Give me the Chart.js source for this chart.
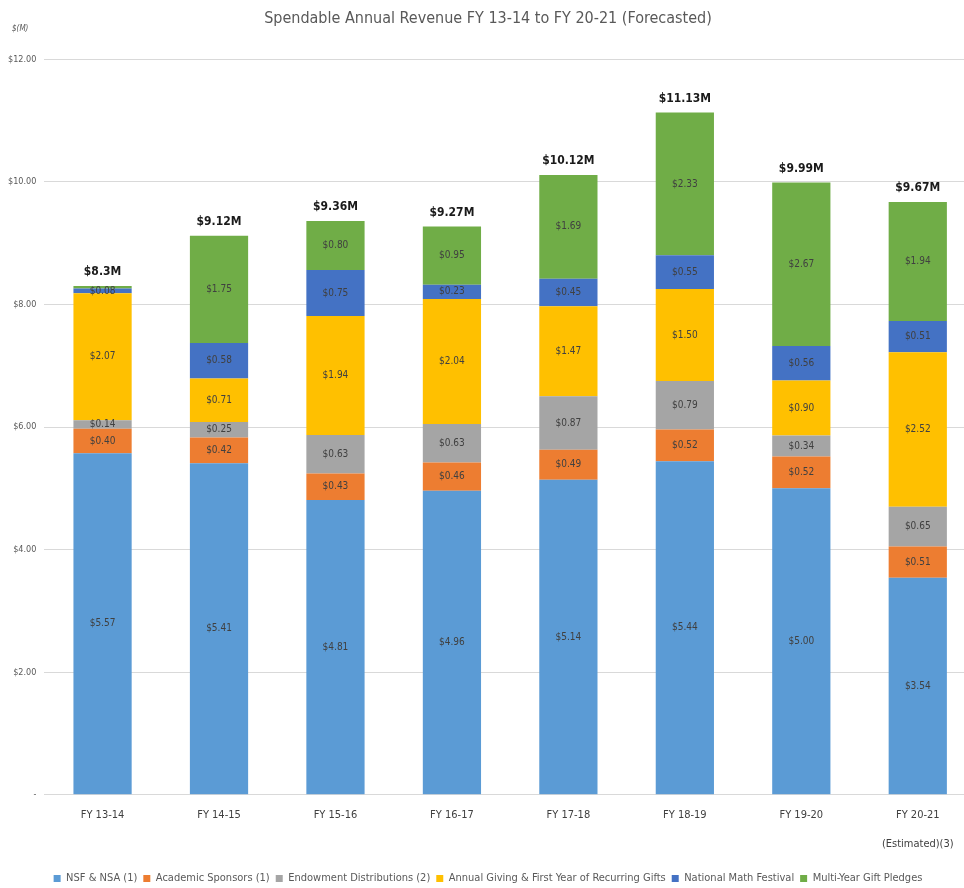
<!DOCTYPE html>
<html>
<head>
<meta charset="utf-8">
<title>Spendable Annual Revenue</title>
<script src="https://cdn.jsdelivr.net/npm/chart.js@4"></script>
<style>
    html, body { margin: 0; padding: 0; background: #fff; overflow: hidden; }
    .chart-wrap { position: relative; width: 976px; height: 888px; }
</style>
</head>
<body>
<div class="chart-wrap">
    <canvas id="revenueChart"></canvas>
</div>
<script>
// Fiscal years and revenue per source, $ millions
const years = ['FY 13-14', 'FY 14-15', 'FY 15-16', 'FY 16-17', 'FY 17-18', 'FY 18-19', 'FY 19-20', ['FY 20-21', '(Estimated)(3)']];
const nsfNsa = [5.57, 5.41, 4.81, 4.96, 5.14, 5.44, 5.00, 3.54];
const academicSponsors = [0.40, 0.42, 0.43, 0.46, 0.49, 0.52, 0.52, 0.51];
const endowment = [0.14, 0.25, 0.63, 0.63, 0.87, 0.79, 0.34, 0.65];
const annualGiving = [2.07, 0.71, 1.94, 2.04, 1.47, 1.50, 0.90, 2.52];
const mathFestival = [0.08, 0.58, 0.75, 0.23, 0.45, 0.55, 0.56, 0.51];
const giftPledges = [0.04, 1.75, 0.80, 0.95, 1.69, 2.33, 2.67, 1.94];
const totals = ['$8.3M', '$9.12M', '$9.36M', '$9.27M', '$10.12M', '$11.13M', '$9.99M', '$9.67M'];
const yTicks = [0, 2, 4, 6, 8, 10, 12];

// condensed face; the stretch keyword rides in the weight slot of the font string
const FONT = "'DejaVu Sans', sans-serif";
const NARROW = 'normal condensed';
const NARROW_BOLD = 'bold condensed';

// writes each segment's value in its middle and the year total above the stack
const barLabels = {
    id: 'barLabels',
    afterDatasetsDraw(chart) {
        const ctx = chart.ctx;
        ctx.save();
        ctx.textAlign = 'center';
        ctx.textBaseline = 'middle';
        ctx.font = NARROW + ' 10px ' + FONT;
        ctx.fillStyle = '#404040';
        chart.data.datasets.forEach((ds, i) => {
            const meta = chart.getDatasetMeta(i);
            meta.data.forEach((bar, j) => {
                // slivers too thin to hold text stay unlabeled
                if (Math.abs(bar.base - bar.y) < 4) return;
                const v = ds.data[j];
                ctx.fillText('$' + v.toFixed(2), bar.x, (bar.y + bar.base) / 2);
            });
        });
        const last = chart.getDatasetMeta(chart.data.datasets.length - 1);
        ctx.font = NARROW_BOLD + ' 12px ' + FONT;
        ctx.fillStyle = '#1a1a1a';
        ctx.textBaseline = 'bottom';
        last.data.forEach((bar, j) => {
            ctx.fillText(totals[j], bar.x, bar.y - 8);
        });
        // units note in the corner
        ctx.font = 'italic ' + NARROW + ' 8px ' + FONT;
        ctx.fillStyle = '#595959';
        ctx.textAlign = 'left';
        ctx.textBaseline = 'middle';
        ctx.fillText('$(M)', 12, 29);
        ctx.restore();
    }
};

const series = [
    ['NSF & NSA (1)', nsfNsa, '#5B9BD5'],
    ['Academic Sponsors (1)', academicSponsors, '#ED7D31'],
    ['Endowment Distributions (2)', endowment, '#A5A5A5'],
    ['Annual Giving & First Year of Recurring Gifts', annualGiving, '#FFC000'],
    ['National Math Festival', mathFestival, '#4472C4'],
    ['Multi-Year Gift Pledges', giftPledges, '#70AD47']
];

new Chart(document.getElementById('revenueChart'), {
    type: 'bar',
    data: {
        labels: years,
        datasets: series.map(([label, data, color]) => ({
            label: label,
            data: data,
            backgroundColor: color,
            borderWidth: 0,
            barPercentage: 0.5,
            categoryPercentage: 1.0
        }))
    },
    options: {
        responsive: true,
        maintainAspectRatio: false,
        animation: false,
        layout: { padding: { left: 0, right: 0, top: 0, bottom: -6 } },
        plugins: {
            title: {
                display: true,
                text: 'Spendable Annual Revenue FY 13-14 to FY 20-21 (Forecasted)',
                color: '#595959',
                font: { family: FONT, size: 16, weight: NARROW },
                padding: { top: 9, bottom: 31 }
            },
            legend: {
                position: 'bottom',
                labels: {
                    boxWidth: 7,
                    boxHeight: 7,
                    padding: 6,
                    color: '#595959',
                    font: { family: FONT, size: 11, weight: NARROW }
                }
            },
            tooltip: { enabled: false }
        },
        scales: {
            x: {
                stacked: true,
                grid: { display: false },
                border: { color: '#D9D9D9' },
                // extra room between the year labels and the legend
                afterFit: scale => { scale.height += 11; },
                ticks: {
                    color: '#404040',
                    padding: -2,
                    maxRotation: 0,
                    font: { family: FONT, size: 11, weight: NARROW, lineHeight: 2.6 }
                }
            },
            y: {
                stacked: true,
                min: 0,
                max: 12,
                afterBuildTicks: axis => {
                    axis.ticks = yTicks.map(v => ({ value: v }));
                },
                grid: { color: '#D9D9D9', drawTicks: false },
                border: { display: false },
                ticks: {
                    padding: 8,
                    color: '#595959',
                    font: { family: FONT, size: 9, weight: NARROW },
                    callback: v => v === 0 ? '-' : '$' + v.toFixed(2)
                }
            }
        }
    },
    plugins: [barLabels]
});
</script>
</body>
</html>
